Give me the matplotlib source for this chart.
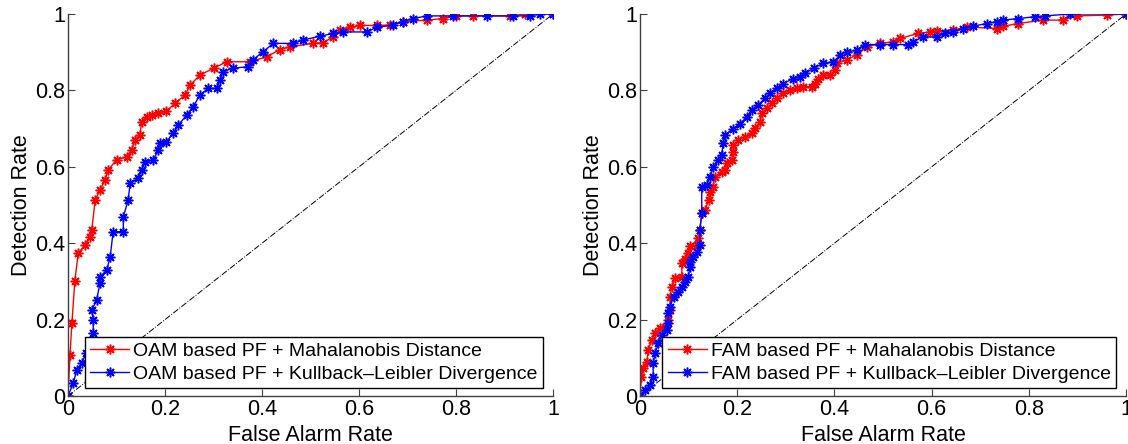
import matplotlib
matplotlib.use('Agg')
import matplotlib.pyplot as plt

plt.rcParams['font.family'] = ['Liberation Sans', 'DejaVu Sans']

# ROC points (false alarm rate, detection rate)
oam_md_fa = [0, 0.004, 0.008, 0.014, 0.021, 0.035, 0.045, 0.049, 0.056, 0.066, 0.076,
             0.083, 0.10, 0.121, 0.131, 0.138, 0.148, 0.152, 0.162, 0.173, 0.186, 0.203,
             0.221, 0.241, 0.252, 0.272, 0.30, 0.327, 0.375, 0.41, 0.437, 0.458, 0.505,
             0.526, 0.547, 0.561, 0.581, 0.602, 0.636, 0.664, 0.691, 0.74, 0.773, 0.80,
             0.835, 0.911, 0.942, 1.0]
oam_md_dr = [0, 0.107, 0.19, 0.30, 0.374, 0.395, 0.416, 0.435, 0.513, 0.539, 0.565,
             0.592, 0.618, 0.626, 0.644, 0.670, 0.683, 0.718, 0.731, 0.736, 0.742, 0.745,
             0.767, 0.787, 0.814, 0.840, 0.858, 0.875, 0.875, 0.888, 0.907, 0.914, 0.923,
             0.925, 0.94, 0.958, 0.965, 0.97, 0.97, 0.971, 0.98, 0.984, 0.988, 0.995,
             0.995, 0.995, 1.0, 1.0]

oam_kl_fa = [0, 0.011, 0.018, 0.028, 0.038, 0.049, 0.052, 0.052, 0.049, 0.059, 0.066,
             0.066, 0.08, 0.087, 0.093, 0.114, 0.114, 0.124, 0.128, 0.145, 0.152, 0.159,
             0.176, 0.186, 0.19, 0.203, 0.217, 0.227, 0.245, 0.258, 0.272, 0.289, 0.307,
             0.313, 0.32, 0.34, 0.371, 0.381, 0.402, 0.423, 0.464, 0.485, 0.52, 0.547,
             0.567, 0.616, 0.636, 0.67, 0.691, 0.711, 0.74, 0.794, 0.863, 0.918, 0.952,
             0.973, 1.0]
oam_kl_dr = [0, 0.034, 0.068, 0.086, 0.112, 0.139, 0.165, 0.199, 0.225, 0.251, 0.296,
             0.312, 0.33, 0.365, 0.43, 0.43, 0.469, 0.513, 0.557, 0.57, 0.592, 0.613,
             0.618, 0.644, 0.661, 0.666, 0.688, 0.709, 0.736, 0.757, 0.788, 0.805, 0.805,
             0.827, 0.849, 0.858, 0.862, 0.88, 0.901, 0.923, 0.923, 0.932, 0.942, 0.949,
             0.953, 0.953, 0.965, 0.971, 0.98, 0.988, 0.995, 0.995, 0.995, 0.995, 0.995,
             1.0, 1.0]

fam_md_fa = [0, 0.003, 0.006, 0.014, 0.017, 0.024, 0.031, 0.041, 0.051, 0.058, 0.062,
             0.062, 0.065, 0.072, 0.086, 0.086, 0.093, 0.099, 0.103, 0.117, 0.12, 0.123,
             0.127, 0.134, 0.141, 0.144, 0.15, 0.154, 0.168, 0.175, 0.178, 0.189, 0.192,
             0.192, 0.202, 0.216, 0.23, 0.237, 0.247, 0.25, 0.261, 0.271, 0.281, 0.295,
             0.309, 0.322, 0.336, 0.353, 0.36, 0.367, 0.377, 0.391, 0.401, 0.405, 0.425,
             0.446, 0.466, 0.494, 0.521, 0.535, 0.572, 0.597, 0.61, 0.644, 0.672, 0.734,
             0.747, 0.778, 0.829, 0.87, 0.898, 0.96, 1.0]
fam_md_dr = [0, 0.05, 0.073, 0.09, 0.12, 0.147, 0.165, 0.178, 0.181, 0.199, 0.225,
             0.26, 0.286, 0.308, 0.312, 0.347, 0.358, 0.374, 0.392, 0.395, 0.413, 0.435,
             0.478, 0.487, 0.513, 0.535, 0.548, 0.574, 0.587, 0.592, 0.609, 0.618, 0.64,
             0.657, 0.67, 0.679, 0.688, 0.701, 0.718, 0.74, 0.753, 0.766, 0.779, 0.792,
             0.801, 0.805, 0.81, 0.81, 0.818, 0.831, 0.84, 0.84, 0.853, 0.871, 0.88,
             0.893, 0.914, 0.923, 0.927, 0.936, 0.949, 0.953, 0.956, 0.958, 0.966, 0.962,
             0.968, 0.975, 0.984, 0.984, 0.995, 0.997, 1.0]

fam_kl_fa = [0, 0.01, 0.021, 0.027, 0.027, 0.031, 0.038, 0.045, 0.055, 0.058, 0.058,
             0.062, 0.069, 0.079, 0.086, 0.093, 0.099, 0.103, 0.103, 0.11, 0.117, 0.123,
             0.123, 0.127, 0.127, 0.137, 0.144, 0.151, 0.161, 0.168, 0.171, 0.175, 0.192,
             0.206, 0.22, 0.23, 0.243, 0.257, 0.267, 0.281, 0.295, 0.315, 0.329, 0.34,
             0.357, 0.377, 0.398, 0.412, 0.425, 0.446, 0.463, 0.494, 0.521, 0.551, 0.562,
             0.582, 0.61, 0.628, 0.644, 0.665, 0.685, 0.713, 0.734, 0.747, 0.778, 0.813,
             0.833, 0.885, 1.0]
fam_kl_dr = [0, 0.016, 0.029, 0.05, 0.086, 0.112, 0.138, 0.16, 0.173, 0.19, 0.216,
             0.234, 0.26, 0.273, 0.286, 0.299, 0.312, 0.338, 0.351, 0.365, 0.378, 0.395,
             0.435, 0.478, 0.548, 0.552, 0.574, 0.6, 0.618, 0.631, 0.661, 0.683, 0.7,
             0.713, 0.731, 0.749, 0.762, 0.779, 0.792, 0.805, 0.818, 0.831, 0.836, 0.845,
             0.858, 0.871, 0.875, 0.893, 0.901, 0.905, 0.92, 0.92, 0.92, 0.92, 0.927,
             0.94, 0.94, 0.949, 0.953, 0.962, 0.968, 0.975, 0.98, 0.984, 0.988, 0.993,
             0.995, 1.0, 1.0]

ticks = [0, 0.2, 0.4, 0.6, 0.8, 1]
tick_labels = ['0', '0.2', '0.4', '0.6', '0.8', '1']

panels = [
    (oam_md_fa, oam_md_dr, oam_kl_fa, oam_kl_dr,
     'OAM based PF + Mahalanobis Distance',
     'OAM based PF + Kullback\u2013Leibler Divergence'),
    (fam_md_fa, fam_md_dr, fam_kl_fa, fam_kl_dr,
     'FAM based PF + Mahalanobis Distance',
     'FAM based PF + Kullback\u2013Leibler Divergence'),
]

fig = plt.figure(figsize=(11.28, 4.44), dpi=100)
positions = [[0.0603, 0.1081, 0.43, 0.8604], [0.5674, 0.1081, 0.4309, 0.8604]]
axis_col = '#404040'
star = (8, 2, 0)  # matlab-like asterisk

for pos, (fa1, dr1, fa2, dr2, lab1, lab2) in zip(positions, panels):
    ax = fig.add_axes(pos)
    ax.plot([0, 1], [0, 1], color='black', linestyle='-.', linewidth=0.7)
    ax.plot(fa1, dr1, color='red', marker=star, markersize=7, markeredgewidth=1.1,
            linewidth=1, label=lab1)
    ax.plot(fa2, dr2, color='blue', marker=star, markersize=7, markeredgewidth=1.1,
            linewidth=1, label=lab2)
    ax.set_xlim(0, 1)
    ax.set_ylim(0, 1)
    ax.set_xticks(ticks)
    ax.set_xticklabels(tick_labels)
    ax.set_yticks(ticks)
    ax.set_yticklabels(tick_labels)
    for s in ['top', 'right']:
        ax.spines[s].set_visible(False)
    for s in ['left', 'bottom']:
        ax.spines[s].set_color(axis_col)
        ax.spines[s].set_linewidth(1)
    ax.tick_params(direction='in', length=5, width=0.8, color=axis_col,
                   labelsize=15.5, pad=2)
    ax.set_xlabel('False Alarm Rate', fontsize=15.5, labelpad=4)
    ax.set_ylabel('Detection Rate', fontsize=15.5, labelpad=2)
    leg = ax.legend(loc='lower right', bbox_to_anchor=(0.98, 0.02), fontsize=14,
                    numpoints=1, handlelength=2.0, handletextpad=0.2,
                    borderaxespad=0, borderpad=0.3, labelspacing=0.25,
                    fancybox=False, framealpha=1)
    leg.get_frame().set_edgecolor('black')
    leg.get_frame().set_linewidth(1)

fig.savefig('out.png', dpi=100)
